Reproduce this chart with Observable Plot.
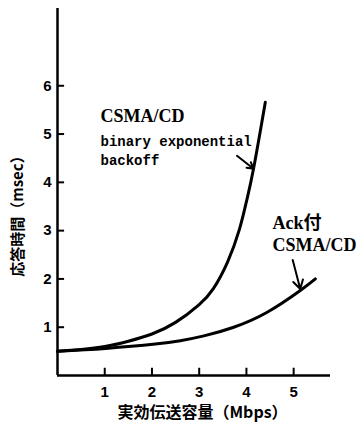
<!DOCTYPE html>
<html><head><meta charset="utf-8">
<script src="https://cdn.jsdelivr.net/npm/d3@7"></script>
<script src="https://cdn.jsdelivr.net/npm/@observablehq/plot@0.6"></script>
<style>body{margin:0;background:#fff}</style>
</head><body><div id="chart"></div>
<script>
// Tick values
const xTicks = [1, 2, 3, 4, 5];
const yTicks = [1, 2, 3, 4, 5, 6];

// Series: CSMA/CD binary exponential backoff
const bebX = [0, 0.5, 1.0, 1.5, 2.0, 2.5, 3.0, 3.3, 3.6, 3.85, 4.0, 4.15, 4.4];
const bebY = [0.50, 0.54, 0.60, 0.71, 0.86, 1.10, 1.47, 1.80, 2.35, 3.02, 3.60, 4.28, 5.66];

// Series: Ack付 CSMA/CD
const ackX = [0, 1.02, 2.07, 2.6, 3.1, 3.73, 4.44, 5.14, 5.46];
const ackY = [0.50, 0.56, 0.65, 0.72, 0.82, 1.00, 1.31, 1.76, 2.00];

// Annotation labels
const labelText = ["CSMA/CD", "binary exponential", "backoff", "Ack付", "CSMA/CD"];
const labelX = [0.91, 0.91, 0.91, 4.55, 4.55];
const labelY = [5.36, 4.85, 4.46, 3.16, 2.70];
const labelFont = ["serif", "mono", "mono", "serif", "serif"];

// Arrows pointing at the curves
const arrowX1 = [3.80, 4.98];
const arrowY1 = [4.55, 2.39];
const arrowX2 = [4.15, 5.14];
const arrowY2 = [4.28, 1.79];

const xTitle = "実効伝送容量（Mbps）";
const yTitle = "応答時間（msec）";

const beb = bebX.map((x, i) => ({x, y: bebY[i]}));
const ack = ackX.map((x, i) => ({x, y: ackY[i]}));
const labels = labelText.map((t, i) => ({t, x: labelX[i], y: labelY[i], f: labelFont[i]}));
const arrows = arrowX1.map((x1, i) => ({x1, y1: arrowY1[i], x2: arrowX2[i], y2: arrowY2[i]}));

const serif = "'Liberation Serif', 'Noto Sans CJK JP', serif";
const mono = "'Liberation Mono', 'DejaVu Sans Mono', monospace";
const sans = "'Liberation Sans', Arial, sans-serif";
const cjk = "'Noto Sans CJK JP', sans-serif";

const chart = Plot.plot({
  width: 361,
  height: 426,
  marginLeft: 57,
  marginRight: 31,
  marginTop: 8,
  marginBottom: 51,
  x: {domain: [0, 5.78]},
  y: {domain: [0, 7.6]},
  style: {background: "#fff", color: "#000"},
  marks: [
    Plot.axisX(xTicks, {tickSize: 0, tickPadding: 11, fontSize: 15, fontWeight: "bold", fontFamily: sans, label: null}),
    Plot.axisY(yTicks, {tickSize: 0, tickPadding: 6, fontSize: 15, fontWeight: "bold", fontFamily: sans, label: null}),
    Plot.ruleX(xTicks, {x: d => d, y1: 0, y2: 0.15, stroke: "#000", strokeWidth: 2}),
    Plot.ruleY(yTicks, {y: d => d, x1: 0, x2: 0.15, stroke: "#000", strokeWidth: 2}),
    Plot.ruleX([0], {stroke: "#000", strokeWidth: 2.5}),
    Plot.ruleY([0], {stroke: "#000", strokeWidth: 2.5}),
    Plot.line(beb, {x: "x", y: "y", curve: "natural", stroke: "#000", strokeWidth: 3}),
    Plot.line(ack, {x: "x", y: "y", curve: "natural", stroke: "#000", strokeWidth: 3}),
    Plot.arrow(arrows, {x1: "x1", y1: "y1", x2: "x2", y2: "y2", stroke: "#000", strokeWidth: 2, headLength: 9}),
    Plot.text(labels.filter(d => d.f === "serif"), {x: "x", y: "y", text: "t", textAnchor: "start", lineAnchor: "middle", fontSize: 18, fontWeight: "bold", fontFamily: serif, fill: "#000"}),
    Plot.text(labels.filter(d => d.f === "mono"), {x: "x", y: "y", text: "t", textAnchor: "start", lineAnchor: "middle", fontSize: 14, fontWeight: "bold", fontFamily: mono, fill: "#000"}),
    Plot.text([xTitle], {x: 3.07, y: -0.77, text: d => d, textAnchor: "middle", lineAnchor: "middle", fontSize: 16, fontWeight: "bold", fontFamily: cjk, fill: "#000"}),
    Plot.text([yTitle], {x: -0.826, y: 3.375, text: d => d, rotate: -90, textAnchor: "middle", lineAnchor: "middle", fontSize: 15, fontWeight: "bold", fontFamily: cjk, fill: "#000"})
  ]
});
document.getElementById("chart").appendChild(chart);
</script>
</body></html>
